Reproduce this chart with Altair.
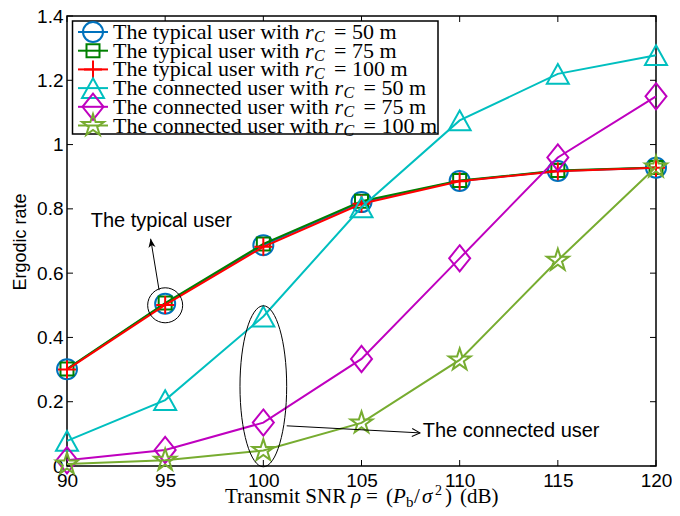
import altair as alt
import pandas as pd

# ---------------- data ----------------
snr = [90, 95, 100, 105, 110, 115, 120]
typical_50 = [0.301, 0.505, 0.687, 0.821, 0.887, 0.918, 0.928]
typical_75 = [0.302, 0.507, 0.691, 0.824, 0.888, 0.919, 0.929]
typical_100 = [0.300, 0.501, 0.682, 0.816, 0.886, 0.917, 0.928]
connected_50 = [0.078, 0.205, 0.465, 0.805, 1.075, 1.220, 1.278]
connected_75 = [0.018, 0.050, 0.135, 0.333, 0.646, 0.960, 1.150]
connected_100 = [0.006, 0.018, 0.048, 0.134, 0.330, 0.640, 0.930]

x_ticks = [90, 95, 100, 105, 110, 115, 120]
y_ticks = [0, 0.2, 0.4, 0.6, 0.8, 1, 1.2, 1.4]

legend_prefix = ["The typical user with"] * 3 + ["The connected user with"] * 3
legend_value = ["= 50 m", "= 75 m", "= 100 m"] * 2

# annotation anchors (data units)
typ_circle = {"x": 95, "y": 0.5}
con_ellipse = {"x": 100, "y": 0.248}
typ_arrow = [{"x": 94.69, "y": 0.547}, {"x": 94.26, "y": 0.707}]
con_arrow = [{"x": 101.19, "y": 0.125}, {"x": 107.98, "y": 0.103}]
typ_text = {"x": 91.21, "y": 0.745, "t": "The typical user"}
con_text = {"x": 108.12, "y": 0.090, "t": "The connected user"}

# ---------------- styles ----------------
W, H = 589, 450
SANS = "Liberation Sans"
SERIF = "Liberation Serif"

PLUS = "M-1,0L1,0M0,-1L0,1"
TRI = "M0,-0.9L1,0.9L-1,0.9Z"
DIAMOND = "M0,-1.25L1,0L0,1.25L-1,0Z"
STAR = ("M0,-1L0.2245,-0.309L0.9511,-0.309L0.3633,0.118L0.5878,0.809"
        "L0,0.382L-0.5878,0.809L-0.3633,0.118L-0.9511,-0.309L-0.2245,-0.309Z")
ELLIPSE = "M-0.29,0A0.29,1,0,1,1,0.29,0A0.29,1,0,1,1,-0.29,0Z"
HEAD_FILLED = "M0,0L0.45,1.1L0,0.8L-0.45,1.1Z"
HEAD_OPEN = "M-0.5,1L0,0L0.5,1"

series = [
    (typical_50, "#0072BD", "circle", 400),
    (typical_75, "#008000", "square", 169),
    (typical_100, "#FF0000", PLUS, 324),
    (connected_50, "#00BFBF", TRI, 484),
    (connected_75, "#BF00BF", DIAMOND, 441),
    (connected_100, "#77AC30", STAR, 529),
]

X_AXIS = alt.Axis(values=x_ticks, title=None, grid=False, domain=False, ticks=False,
                  labelFont=SANS, labelFontSize=19, labelColor="black",
                  labelPadding=5, labelFlush=False, labelOverlap=False)
Y_AXIS = alt.Axis(values=y_ticks, format="~g", title=None, grid=False, domain=False,
                  ticks=False, labelFont=SANS, labelFontSize=19, labelColor="black",
                  labelPadding=4, labelOverlap=False)


def xenc(field="x"):
    return alt.X(f"{field}:Q", scale=alt.Scale(domain=[90, 120], nice=False, zero=False), axis=X_AXIS)


def yenc(field="y"):
    return alt.Y(f"{field}:Q", scale=alt.Scale(domain=[0, 1.4], nice=False), axis=Y_AXIS)


one = pd.DataFrame({"a": [0]})
layers = []

# inside ticks on all four sides
xt = pd.DataFrame({"x": x_ticks})
yt = pd.DataFrame({"y": y_ticks})
layers.append(alt.Chart(xt).mark_rule(color="black", strokeWidth=1).encode(x=xenc(), y=alt.value(H), y2=alt.value(H - 6)))
layers.append(alt.Chart(xt).mark_rule(color="black", strokeWidth=1).encode(x=xenc(), y=alt.value(0), y2=alt.value(6)))
layers.append(alt.Chart(yt).mark_rule(color="black", strokeWidth=1).encode(y=yenc(), x=alt.value(0), x2=alt.value(6)))
layers.append(alt.Chart(yt).mark_rule(color="black", strokeWidth=1).encode(y=yenc(), x=alt.value(W), x2=alt.value(W - 6)))

# data series
for vals, color, shape, size in series:
    df = pd.DataFrame({"x": snr, "y": vals})
    layers.append(alt.Chart(df).mark_line(color=color, strokeWidth=2).encode(x=xenc(), y=yenc()))
    layers.append(alt.Chart(df).mark_point(shape=shape, size=size, filled=False, color=color,
                                           strokeWidth=2, opacity=1).encode(x=xenc(), y=yenc()))

# annotations
layers.append(alt.Chart(pd.DataFrame([typ_circle])).mark_point(
    shape="circle", size=1225, filled=False, color="black", strokeWidth=1, opacity=1).encode(x=xenc(), y=yenc()))
layers.append(alt.Chart(pd.DataFrame([con_ellipse])).mark_point(
    shape=ELLIPSE, size=25921, filled=False, color="black", strokeWidth=1, opacity=1).encode(x=xenc(), y=yenc()))
layers.append(alt.Chart(pd.DataFrame(typ_arrow)).mark_line(color="black", strokeWidth=1).encode(x=xenc(), y=yenc()))
layers.append(alt.Chart(pd.DataFrame(con_arrow)).mark_line(color="black", strokeWidth=1).encode(x=xenc(), y=yenc()))
layers.append(alt.Chart(pd.DataFrame([typ_arrow[1]])).mark_point(
    shape=HEAD_FILLED, size=256, filled=True, color="black", angle=351, opacity=1).encode(x=xenc(), y=yenc()))
layers.append(alt.Chart(pd.DataFrame([con_arrow[1]])).mark_point(
    shape=HEAD_OPEN, size=256, filled=False, color="black", strokeWidth=1, angle=93, opacity=1).encode(x=xenc(), y=yenc()))
for t in (typ_text, con_text):
    layers.append(alt.Chart(pd.DataFrame([t])).mark_text(
        font=SANS, fontSize=20, color="black", align="left", baseline="alphabetic").encode(
        x=xenc(), y=yenc(), text="t:N"))

# legend (manual, to get the math-styled r_C)
layers.append(alt.Chart(one).mark_rect(fill="white", stroke="black", strokeWidth=1.5).encode(
    x=alt.value(5.5), x2=alt.value(371), y=alt.value(5), y2=alt.value(118)))
FS = 22
rows = []
for i in range(6):
    ly = 16 + i * 18.7
    rx = 238 if i < 3 else 267.5
    rows.append({"ly": ly, "lys": ly + 5, "prefix": legend_prefix[i], "rx": rx,
                 "cx": rx + 9, "ex": rx + 29, "rest": legend_value[i]})
    _, color, shape, size = series[i]
    layers.append(alt.Chart(one).mark_rule(color=color, strokeWidth=2).encode(
        x=alt.value(11), x2=alt.value(41), y=alt.value(ly)))
    layers.append(alt.Chart(one).mark_point(shape=shape, size=size, filled=False, color=color,
                                            strokeWidth=2, opacity=1).encode(x=alt.value(26), y=alt.value(ly)))
leg = pd.DataFrame(rows)
base_t = dict(font=SERIF, color="black", align="left", baseline="middle")
layers.append(alt.Chart(leg).mark_text(fontSize=FS, **base_t).encode(
    x=alt.value(46), y=alt.Y("ly:Q", scale=None), text="prefix:N"))
layers.append(alt.Chart(leg).mark_text(fontSize=FS, fontStyle="italic", **base_t).encode(
    x=alt.X("rx:Q", scale=None), y=alt.Y("ly:Q", scale=None), text=alt.value("r")))
layers.append(alt.Chart(leg).mark_text(fontSize=16, fontStyle="italic", **base_t).encode(
    x=alt.X("cx:Q", scale=None), y=alt.Y("lys:Q", scale=None), text=alt.value("C")))
layers.append(alt.Chart(leg).mark_text(fontSize=FS, **base_t).encode(
    x=alt.X("ex:Q", scale=None), y=alt.Y("ly:Q", scale=None), text="rest:N"))

# axis titles
layers.append(alt.Chart(one).mark_text(font=SANS, fontSize=18, color="black", angle=270,
                                       align="center", baseline="middle").encode(
    x=alt.value(-46), y=alt.value(226), text=alt.value("Ergodic rate")))
title_pieces = [
    ("Transmit SNR", 158, 21, "normal", 0),
    ("ρ", 284, 21, "italic", 0),
    ("=", 299, 21, "normal", 0),
    ("(", 319, 21, "normal", 0),
    ("P", 326, 21, "italic", 0),
    ("b", 339, 15, "normal", 4),
    ("/", 347, 21, "normal", 0),
    ("σ", 355, 21, "italic", 0),
    ("2", 368, 14, "normal", -8),
    (")", 378, 21, "normal", 0),
    ("(dB)", 393, 21, "normal", 0),
]
for txt, px, fs, style, dy in title_pieces:
    layers.append(alt.Chart(one).mark_text(font=SERIF, fontSize=fs, fontStyle=style, color="black",
                                           align="left", baseline="alphabetic").encode(
        x=alt.value(px), y=alt.value(487 + dy), text=alt.value(txt)))

chart = alt.layer(*layers).properties(
    width=W, height=H,
    autosize=alt.AutoSizeParams(type="none"),
    padding={"left": 59, "top": 8, "right": 16, "bottom": 42},
).configure_view(stroke="black", strokeWidth=1.5)

chart.save("out.html", embed_options={"renderer": "svg", "actions": False})
